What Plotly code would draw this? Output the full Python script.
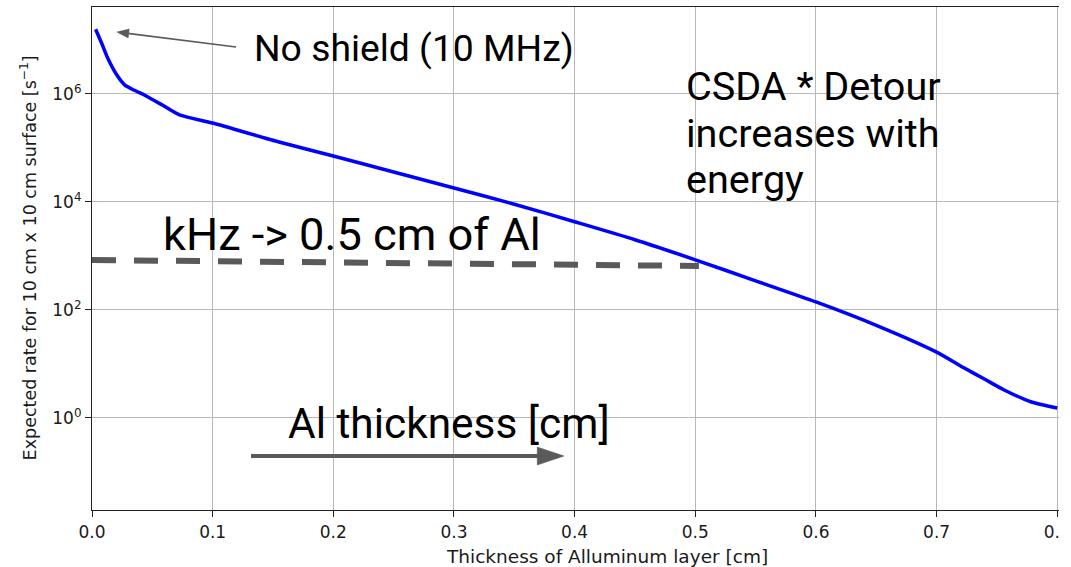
import plotly.graph_objects as go

# Expected rate through an aluminium layer of given thickness
thickness_cm = [0.003, 0.008, 0.0125, 0.0206, 0.027, 0.035, 0.0437, 0.058, 0.0725,
                0.1, 0.155, 0.2, 0.25, 0.3, 0.35, 0.4, 0.45, 0.5, 0.55, 0.6,
                0.65, 0.7, 0.723, 0.74, 0.756, 0.778, 0.8]
rate_per_s = [1.58e7, 8.7e6, 4.9e6, 2.24e6, 1.48e6, 1.17e6, 9.5e5, 6.3e5, 4.1e5,
              2.9e5, 1.29e5, 7.1e4, 3.6e4, 1.82e4, 9.1e3, 4.3e3, 2.0e3, 850, 347, 141,
              52, 16.6, 8.4, 5.2, 3.3, 2.0, 1.53]

# kHz reference level
khz_x = [0.0, 0.503]
khz_rate = [843, 653]

x_ticks = [0.0, 0.1, 0.2, 0.3, 0.4, 0.5, 0.6, 0.7, 0.8]
x_tick_labels = ["0.0", "0.1", "0.2", "0.3", "0.4", "0.5", "0.6", "0.7", "0.8"]
y_ticks = [1, 1e2, 1e4, 1e6]
y_tick_labels = ["10<sup>0</sup>", "10<sup>2</sup>", "10<sup>4</sup>", "10<sup>6</sup>"]

W, H = 1071, 567
L, R, T, B = 92, 0, 7, 57
PW, PH = W - L - R, H - T - B


def px(x):
    return (x - L) / PW


def py(y):
    return (H - B - y) / PH


GREY = "#5a5a5a"
TXT = "#1a1a1a"

fig = go.Figure()
fig.add_trace(go.Scatter(x=khz_x, y=khz_rate, mode="lines",
                         line=dict(color=GREY, width=6, dash="24px,18px"),
                         hoverinfo="skip", showlegend=False))
fig.add_trace(go.Scatter(x=thickness_cm, y=rate_per_s, mode="lines",
                         line=dict(color="#0000ff", width=3.5, shape="spline", smoothing=0.6),
                         showlegend=False))

axis_font = dict(family="DejaVu Sans", size=17, color=TXT)
fig.update_xaxes(range=[0, (W - L) / 1214.0], tickvals=x_ticks, ticktext=x_tick_labels,
                 showgrid=True, gridcolor="#b8b8b8", gridwidth=1,
                 showline=True, linecolor="#222", linewidth=1.2, mirror=True,
                 ticks="outside", ticklen=6, tickcolor="#222", tickfont=axis_font,
                 ticklabeloverflow="allow", zeroline=False)
fig.update_yaxes(type="log", range=[-1.704, 7.611], tickvals=y_ticks, ticktext=y_tick_labels,
                 showgrid=True, gridcolor="#b8b8b8", gridwidth=1,
                 showline=True, linecolor="#222", linewidth=1.2,
                 ticks="outside", ticklen=6, tickcolor="#222", tickfont=axis_font,
                 zeroline=False)

shapes = []
# edge of the panel
shapes.append(dict(type="rect", xref="paper", yref="paper", x0=px(1065), x1=px(1080),
                   y0=-0.3, y1=1.1, fillcolor="white", line=dict(width=0), layer="above"))


def arrow(x0, y0, x1, y1, width, head_len, head_half):
    dx, dy = x1 - x0, y1 - y0
    n = (dx * dx + dy * dy) ** 0.5
    ux, uy = dx / n, dy / n
    bx, by = x1 - ux * head_len, y1 - uy * head_len
    pxv, pyv = -uy, ux
    c1 = (bx + pxv * head_half, by + pyv * head_half)
    c2 = (bx - pxv * head_half, by - pyv * head_half)
    out = [dict(type="line", xref="paper", yref="paper",
                x0=px(x0), y0=py(y0), x1=px(bx + ux * 1), y1=py(by + uy * 1),
                line=dict(color=GREY, width=width), layer="above"),
           dict(type="path", xref="paper", yref="paper",
                path=f"M{px(x1)},{py(y1)} L{px(c1[0])},{py(c1[1])} L{px(c2[0])},{py(c2[1])} Z",
                fillcolor=GREY, line=dict(color=GREY, width=0.5), layer="above")]
    return out


shapes += arrow(237, 47, 117, 32, 1.6, 12, 4.5)
shapes += arrow(252, 456, 567, 456, 4, 27, 9)

ann = []


def label(text, x, y, size, anchor="left"):
    ann.append(dict(text=text, x=px(x), y=py(y), xref="paper", yref="paper",
                    xanchor=anchor, yanchor="middle", showarrow=False,
                    font=dict(family="Roboto", size=size, color="black")))


label("No shield (10 MHz)", 253, 48, 37.3)
label("CSDA * Detour", 688, 86, 39.6)
label("increases with", 688, 133, 39.6)
label("energy", 688, 180, 39.6)
label("kHz -> 0.5 cm of Al", 161, 234, 45.2)
label("Al thickness [cm]", 287, 423, 42.4)

ann.append(dict(text="Thickness of Alluminum layer [cm]", x=px(610), y=py(556),
                xref="paper", yref="paper", xanchor="center", yanchor="middle",
                showarrow=False, font=dict(family="DejaVu Sans", size=18.5, color=TXT)))
ann.append(dict(text="Expected rate for 10 cm x 10 cm surface [s<sup>\u22121</sup>]",
                x=px(28), y=py(258), xref="paper", yref="paper", textangle=-90,
                xanchor="center", yanchor="middle", showarrow=False,
                font=dict(family="DejaVu Sans", size=17.5, color=TXT)))

fig.update_layout(width=W, height=H, margin=dict(l=L, r=R, t=T, b=B, pad=0),
                  paper_bgcolor="white", plot_bgcolor="white",
                  shapes=shapes, annotations=ann, showlegend=False)

fig.write_html("out.html")
